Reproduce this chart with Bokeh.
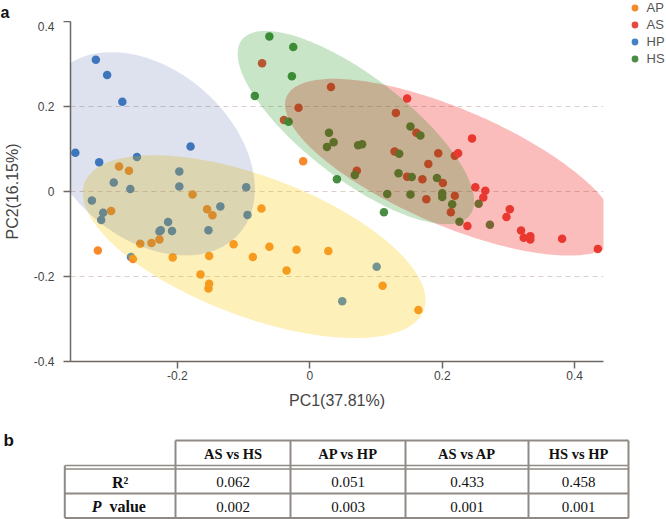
import numpy as np
from bokeh.plotting import figure
from bokeh.layouts import column, row
from bokeh.models import (Range1d, FixedTicker, Legend, LegendItem, PolyAnnotation)
from bokeh.embed import file_html
from bokeh.resources import INLINE
from bokeh.core.properties import value

# ---------------- data ----------------
groups = ["AP", "AS", "HP", "HS"]

ap_x = [-0.288, -0.273, -0.177, -0.010, -0.300, -0.155, -0.147, -0.073, -0.227, -0.239,
        -0.256, -0.115, -0.320, -0.267, -0.207, -0.152, -0.086, -0.061, -0.020, 0.028,
        -0.035, -0.165, -0.152, -0.153, 0.110, 0.164]
ap_y = [0.059, 0.049, -0.007, 0.071, -0.046, -0.042, -0.056, -0.040, -0.113, -0.121,
        -0.123, -0.124, -0.139, -0.159, -0.155, -0.152, -0.154, -0.130, -0.137, -0.140,
        -0.186, -0.195, -0.217, -0.228, -0.222, -0.279]

as_x = [-0.072, 0.032, 0.147, -0.017, -0.039, 0.130, 0.161, 0.245, 0.224, 0.219,
        0.194, 0.128, 0.179, 0.071, 0.147, 0.170, 0.201, 0.250, 0.265, 0.262,
        0.176, 0.219, 0.213, 0.238, 0.302, 0.297, 0.319, 0.323, 0.333, 0.333,
        0.381, 0.435]
as_y = [0.302, 0.246, 0.219, 0.197, 0.168, 0.185, 0.138, 0.125, 0.090, 0.084,
        0.090, 0.094, 0.065, 0.049, 0.035, 0.029, 0.020, 0.010, 0.002, -0.014,
        -0.018, -0.010, -0.049, -0.081, -0.042, -0.060, -0.092, -0.109, -0.105, -0.113,
        -0.111, -0.135]

hp_x = [-0.323, -0.306, -0.283, -0.354, -0.180, -0.318, -0.261, -0.296, -0.271, -0.197,
        -0.197, -0.096, -0.329, -0.312, -0.315, -0.135, -0.094, -0.214, -0.225, -0.227,
        -0.208, -0.153, -0.270, 0.101, 0.049]
hp_y = [0.310, 0.274, 0.211, 0.091, 0.106, 0.069, 0.081, 0.021, 0.006, 0.047,
        0.012, 0.010, -0.021, -0.050, -0.067, -0.035, -0.055, -0.072, -0.091, -0.094,
        -0.093, -0.091, -0.154, -0.177, -0.258]

hs_x = [-0.061, -0.025, -0.027, -0.083, -0.032, 0.029, 0.036, 0.026, 0.073, 0.079,
        0.152, 0.167, 0.135, 0.041, 0.068, 0.134, 0.154, 0.192, 0.117, 0.152,
        0.200, 0.200, 0.112, 0.215, 0.226, 0.255, 0.272]
hs_y = [0.365, 0.340, 0.271, 0.225, 0.164, 0.138, 0.116, 0.105, 0.109, 0.111,
        0.153, 0.132, 0.089, 0.029, 0.039, 0.043, 0.034, 0.032, -0.006, -0.007,
        -0.004, -0.013, -0.049, -0.030, -0.071, -0.029, -0.078]

# confidence ellipses (AP, AS, HP, HS): centre, half-extent in x and y, correlation
ell_cx = [-0.0839, 0.2137, -0.2437, 0.0696]
ell_cy = [-0.1296, 0.0572, 0.0888, 0.1505]
ell_rx = [0.2587, 0.2511, 0.1607, 0.1785]
ell_ry = [0.2151, 0.2080, 0.2391, 0.2273]
ell_rho = [-0.587, -0.707, -0.347, -0.763]

x_ticks = [-0.2, 0, 0.2, 0.4]
x_tick_labels = ["-0.2", "0", "0.2", "0.4"]
y_ticks = [-0.4, -0.2, 0, 0.2, 0.4]
y_tick_labels = ["-0.4", "-0.2", "0", "0.2", "0.4"]

table_cols = ["AS vs HS", "AP vs HP", "AS vs AP", "HS vs HP"]
r2_values = ["0.062", "0.051", "0.433", "0.458"]
p_values = ["0.002", "0.003", "0.001", "0.001"]

# ---------------- styles ----------------
point_colors = {"AP": "#f7892a", "AS": "#e64a3e", "HP": "#4482c6", "HS": "#488d43"}
ell_colors = {"AP": "#f8c905", "AS": "#f00707", "HP": "#133086", "HS": "#0a8905"}
ell_alphas = {"AP": 0.28, "AS": 0.27, "HP": 0.14, "HS": 0.22}
axis_col = "#6e6864"
sans = "Liberation Sans"
serif = "Liberation Serif"

pts = {"AP": (ap_x, ap_y), "AS": (as_x, as_y), "HP": (hp_x, hp_y), "HS": (hs_x, hs_y)}

X0, X1 = -0.3613, 0.4435
Y0, Y1 = -0.4, 0.4


def bare(fig):
    fig.axis.visible = False
    fig.grid.visible = False
    fig.outline_line_color = None
    fig.frame_align = False
    return fig


# ---------------- header strip with panel letter "a" ----------------
hd = bare(figure(width=610, height=21, x_range=Range1d(0, 610), y_range=Range1d(21, 0),
                 output_backend="svg", toolbar_location=None, min_border=0))
hd.text([0], [12], text=["a"], text_font=value(sans), text_font_style="bold",
        text_font_size="16px", text_align="left", text_baseline="alphabetic",
        text_color="#111111")

# ---------------- scatter figure ----------------
p = figure(width=610, height=399, x_range=Range1d(X0, X1),
           y_range=Range1d(Y0, Y1), output_backend="svg", toolbar_location=None,
           min_border_left=67, min_border_right=7, min_border_top=0,
           min_border_bottom=59)
p.frame_align = False
p.outline_line_color = None
p.xgrid.visible = False
p.ygrid.ticker = FixedTicker(ticks=y_ticks)
p.ygrid.grid_line_color = "#dccfcb"
p.ygrid.grid_line_dash = "5 4"
p.ygrid.grid_line_width = 1


def key(v):
    return 0 if v == 0 else v


p.xaxis.ticker = FixedTicker(ticks=x_ticks)
p.yaxis.ticker = FixedTicker(ticks=y_ticks)
p.xaxis.major_label_overrides = {key(v): s for v, s in zip(x_ticks, x_tick_labels)}
p.yaxis.major_label_overrides = {key(v): s for v, s in zip(y_ticks, y_tick_labels)}
p.xaxis.axis_label = "PC1(37.81%)"
p.yaxis.axis_label = "PC2(16.15%)"
for ax in (p.xaxis, p.yaxis):
    ax.axis_line_color = axis_col
    ax.axis_line_width = 1.5
    ax.major_tick_line_color = axis_col
    ax.major_tick_line_width = 1.5
    ax.major_tick_out = 7
    ax.major_tick_in = 0
    ax.minor_tick_line_color = None
    ax.major_label_text_font = sans
    ax.major_label_text_font_size = "12px"
    ax.major_label_text_color = "#444444"
    ax.axis_label_text_font = sans
    ax.axis_label_text_font_size = "16px"
    ax.axis_label_text_font_style = "normal"
    ax.axis_label_text_color = "#444444"
p.xaxis.major_label_standoff = 2
p.xaxis.axis_label_standoff = 9
p.yaxis.major_label_standoff = 9
p.yaxis.axis_label_standoff = 10

for g in ["HP", "AP", "AS", "HS"]:
    xs, ys = pts[g]
    p.scatter(xs, ys, size=8.5, fill_color=point_colors[g], line_color=None)

t = np.linspace(0, 2 * np.pi, 240)
for i, g in enumerate(groups):
    ex = ell_cx[i] + ell_rx[i] * np.cos(t)
    ey = ell_cy[i] + ell_ry[i] * (ell_rho[i] * np.cos(t) +
                                  np.sqrt(1 - ell_rho[i] ** 2) * np.sin(t))
    p.add_layout(PolyAnnotation(xs=ex.tolist(), ys=ey.tolist(),
                                fill_color=ell_colors[g], fill_alpha=ell_alphas[g],
                                line_color=None))

# ---------------- legend strip ----------------
# the strip's ranges lie outside the data, so only the legend entries show
lg = bare(figure(width=56, height=420, x_range=Range1d(10, 11), y_range=Range1d(10, 11),
                 output_backend="svg", toolbar_location=None, min_border=0))
lg_items = []
for g in groups:
    xs, ys = pts[g]
    r = lg.scatter(xs, ys, size=7, fill_color=point_colors[g], line_color=None)
    lg_items.append(LegendItem(label=g, renderers=[r]))
legend = Legend(items=lg_items, location=(15.5, 353.2), glyph_width=17,
                glyph_height=17, spacing=0, label_height=17, label_standoff=4,
                padding=0, margin=0, border_line_color=None, background_fill_alpha=0,
                label_text_font=sans, label_text_font_size="13px",
                label_text_color="#555555")
lg.add_layout(legend)

# ---------------- table figure ----------------
tb = bare(figure(width=666, height=99, x_range=Range1d(0, 666), y_range=Range1d(99, 0),
                 output_backend="svg", toolbar_location=None, min_border=0))

cx_edges = [64.3, 175, 290, 405, 528, 628]
r_top, r_head, r_head2, r_mid, r_bot = 20, 45, 48.5, 73, 97.5
tcol = "#8f8a85"

x0, y0, x1, y1 = [], [], [], []


def seg(a, b, c, d):
    x0.append(a); y0.append(b); x1.append(c); y1.append(d)


seg(cx_edges[1], r_top, cx_edges[-1], r_top)
for xe in cx_edges[1:]:
    seg(xe, r_top, xe, r_head)
for xe in cx_edges:
    seg(xe, r_head, xe, r_bot)
seg(cx_edges[0], r_mid, cx_edges[-1], r_mid)
seg(cx_edges[0], r_bot, cx_edges[-1], r_bot)
tb.segment(x0, y0, x1, y1, line_color=tcol, line_width=2)
tb.segment([cx_edges[0]] * 2, [r_head, r_head2], [cx_edges[-1]] * 2, [r_head, r_head2],
           line_color=tcol, line_width=1.3)

col_centers = [(cx_edges[i] + cx_edges[i + 1]) / 2 for i in range(1, 5)]
yc_head = (r_top + r_head) / 2 + 1
yc_r2 = (r_head2 + r_mid) / 2 + 1
yc_p = (r_mid + r_bot) / 2 + 1
tb.text(col_centers, [yc_head] * 4, text=table_cols,
        text_font=value(serif), text_font_style="bold", text_font_size="14.5px",
        text_align="center", text_baseline="middle", text_color="#111111")
tb.text(col_centers, [yc_r2] * 4, text=r2_values,
        text_font=value(serif), text_font_size="15px",
        text_align="center", text_baseline="middle", text_color="#111111")
tb.text(col_centers, [yc_p] * 4, text=p_values,
        text_font=value(serif), text_font_size="15px",
        text_align="center", text_baseline="middle", text_color="#111111")
c0 = (cx_edges[0] + cx_edges[1]) / 2
tb.text([c0], [yc_r2], text=["R²"], text_font=value(serif),
        text_font_style="bold", text_font_size="16px", text_align="center",
        text_baseline="middle", text_color="#111111")
tb.text([101], [yc_p], text=["P"], text_font=value(serif),
        text_font_style="bold italic", text_font_size="16px", text_align="right",
        text_baseline="middle", text_color="#111111")
tb.text([109], [yc_p], text=["value"], text_font=value(serif),
        text_font_style="bold", text_font_size="16px", text_align="left",
        text_baseline="middle", text_color="#111111")
tb.text([3], [20], text=["b"], text_font=value(sans), text_font_style="bold",
        text_font_size="17px", text_align="left", text_baseline="alphabetic",
        text_color="#111111")

layout = column(row(column(hd, p), lg), tb)
open("out.html", "w").write(file_html(layout, INLINE))
